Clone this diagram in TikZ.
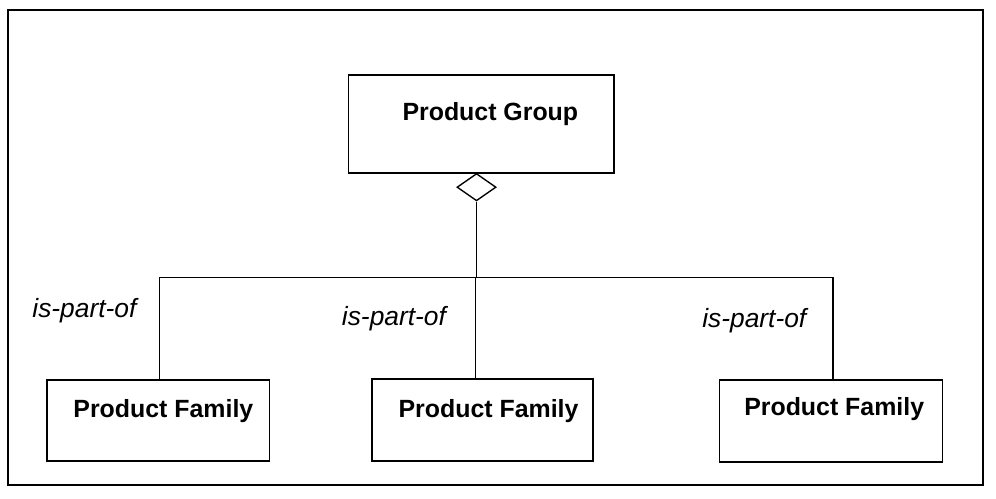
\documentclass[tikz,border=0pt]{standalone}
\usepackage{fontspec}
\setmainfont{Liberation Sans}
\usetikzlibrary{shapes.geometric}

\tikzset{
  classbox/.style={draw, line width=1.6pt, rectangle, inner sep=0pt},
  boxtext/.style={anchor=base west, inner sep=0pt, font=\fontsize{25.5}{28}\selectfont\bfseries},
  rolelabel/.style={anchor=base west, inner sep=0pt, font=\fontsize{27}{30}\selectfont\itshape},
  link/.style={line width=1.3pt},
  aggmark/.style={draw, diamond, line width=1.4pt, inner sep=0pt, minimum width=40pt, minimum height=28pt, fill=white},
  frameline/.style={line width=2.4pt}
}

\begin{document}
\begin{tikzpicture}[x=1pt, y=-1pt]
  \useasboundingbox (0,0) rectangle (1020,511);

  % outer frame
  \draw[frameline] (8,10) rectangle (1007,497);

  % whole
  \node[classbox, minimum width=272pt, minimum height=100pt] (pg) at (493,127) {};
  \node[boxtext] (pgt) at (412,123) {Product Group};

  % parts
  \node[classbox, minimum width=228pt, minimum height=83pt] (fam1) at (162,430.5) {};
  \node[classbox, minimum width=226pt, minimum height=84pt] (fam2) at (494,430) {};
  \node[classbox, minimum width=228pt, minimum height=84pt] (fam3) at (851,431) {};
  \node[boxtext] (fam1t) at (75,428) {Product Family};
  \node[boxtext] (fam2t) at (408,428) {Product Family};
  \node[boxtext] (fam3t) at (762,425) {Product Family};

  % aggregation diamond under the whole
  \node[aggmark, anchor=north] (agg) at (488,177) {};

  % branch points of the tree connector
  \coordinate (jL) at (163,284);
  \coordinate (jM) at (487,284);
  \coordinate (jR) at (853,284);

  \draw[link] (agg.south) -- (agg.south |- jM);
  \draw[link] (jL) -- (jR);
  \draw[link] (jL) -- (fam1.north -| jL);
  \draw[link] (jM) -- (fam2.north -| jM);
  \draw[link] (jR) -- (fam3.north -| jR);

  % role names
  \node[rolelabel] (r1) at (33,325) {is-part-of};
  \node[rolelabel] (r2) at (350,333) {is-part-of};
  \node[rolelabel] (r3) at (719,335) {is-part-of};
\end{tikzpicture}
\end{document}
